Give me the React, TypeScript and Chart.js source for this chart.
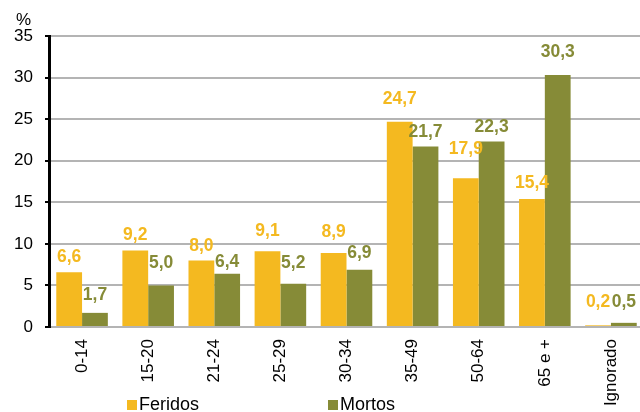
import React, { useEffect, useRef } from "react";
import { Chart, registerables } from "chart.js";

Chart.register(...registerables);

const categories = ["0-14", "15-20", "21-24", "25-29", "30-34", "35-49", "50-64", "65 e +", "Ignorado"];
const feridos = [6.6, 9.2, 8.0, 9.1, 8.9, 24.7, 17.9, 15.4, 0.2];
const mortos = [1.7, 5.0, 6.4, 5.2, 6.9, 21.7, 22.3, 30.3, 0.5];
const yTicks = [0, 5, 10, 15, 20, 25, 30, 35];

// style: distance (px) from bar top to the centre of its value label
const feridosLabelGap = [15, 15, 14, 20, 21, 22, 29, 16, 23];
const mortosLabelGap = [18, 22, 12, 21, 16, 14, 14, 23, 21];

const FERIDOS_COLOR = "#F4B920";
const MORTOS_COLOR = "#868B37";
const FONT = '"Liberation Sans", Arial, sans-serif';

const fmt = (v: number) => v.toFixed(1).replace(".", ",");

const overlayPlugin = {
  id: "overlay",
  afterDatasetsDraw(chart: any) {
    const ctx = chart.ctx;
    ctx.save();
    ctx.font = `bold 17.5px ${FONT}`;
    ctx.textAlign = "center";
    ctx.textBaseline = "middle";
    const gaps = [feridosLabelGap, mortosLabelGap];
    chart.data.datasets.forEach((ds: any, di: number) => {
      const meta = chart.getDatasetMeta(di);
      ctx.fillStyle = ds.backgroundColor;
      meta.data.forEach((bar: any, i: number) => {
        ctx.fillText(fmt(ds.data[i]), bar.x, bar.y - gaps[di][i]);
      });
    });
    // "%" unit
    ctx.font = `17px ${FONT}`;
    ctx.fillStyle = "#000";
    ctx.fillText("%", 23.5, 20);
    // legend
    ctx.font = `18px ${FONT}`;
    ctx.textAlign = "left";
    ctx.fillStyle = FERIDOS_COLOR;
    ctx.fillRect(127, 400, 10, 10);
    ctx.fillStyle = "#000";
    ctx.fillText("Feridos", 139, 405);
    ctx.fillStyle = MORTOS_COLOR;
    ctx.fillRect(328, 400, 10, 10);
    ctx.fillStyle = "#000";
    ctx.fillText("Mortos", 340, 405);
    ctx.restore();
  },
};

export default function App() {
  const ref = useRef<HTMLCanvasElement>(null);
  useEffect(() => {
    document.body.style.margin = "0";
    const chart = new Chart(ref.current as HTMLCanvasElement, {
      type: "bar",
      data: {
        labels: categories,
        datasets: [
          { label: "Feridos", data: feridos, backgroundColor: FERIDOS_COLOR, categoryPercentage: 0.78, barPercentage: 1 },
          { label: "Mortos", data: mortos, backgroundColor: MORTOS_COLOR, categoryPercentage: 0.78, barPercentage: 1 },
        ],
      },
      options: {
        animation: false,
        responsive: false,
        maintainAspectRatio: false,
        layout: { padding: { top: 36, left: 0, right: 0, bottom: 0 } },
        plugins: { legend: { display: false }, tooltip: { enabled: false } },
        scales: {
          x: {
            grid: { display: false, drawTicks: false },
            border: { color: "#B4B4B4", width: 2 },
            ticks: {
              color: "#000",
              font: { size: 17, family: FONT },
              minRotation: 90,
              maxRotation: 90,
              padding: 12,
              autoSkip: false,
            },
            afterFit: (scale: any) => {
              scale.height = 85;
            },
          },
          y: {
            min: 0,
            max: 35,
            afterBuildTicks: (scale: any) => {
              scale.ticks = yTicks.map((v) => ({ value: v }));
            },
            grid: { color: "#B4B4B4", lineWidth: 2, tickColor: "#000", tickLength: 4, tickWidth: 2 },
            border: { color: "#000", width: 3 },
            ticks: {
              color: "#000",
              font: { size: 17, family: FONT },
              padding: 12,
            },
            afterFit: (scale: any) => {
              scale.width = 49;
            },
          },
        },
      },
      plugins: [overlayPlugin],
    });
    return () => chart.destroy();
  }, []);
  return (
    <div style={{ width: 640, height: 412, overflow: "hidden", position: "relative" }}>
      <canvas ref={ref} width={644} height={412} style={{ display: "block" }} />
    </div>
  );
}
